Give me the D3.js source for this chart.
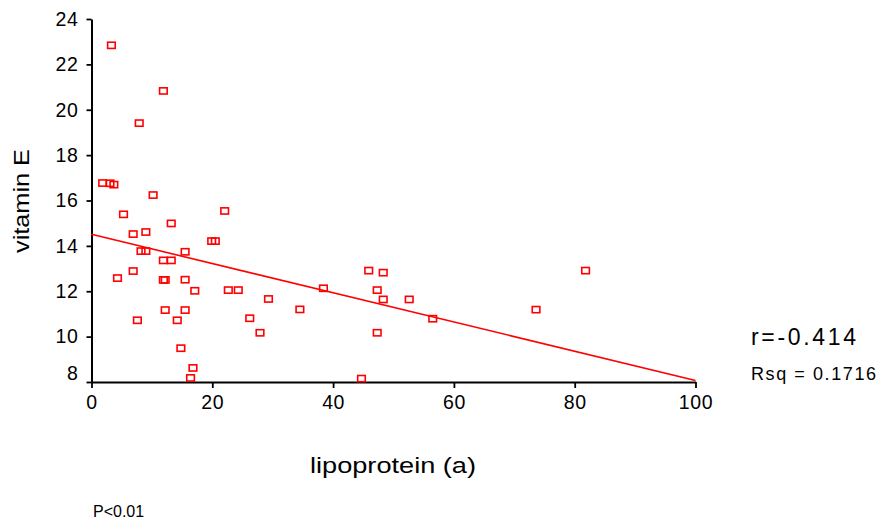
<!DOCTYPE html>
<html><head><meta charset="utf-8">
<script src="https://cdn.jsdelivr.net/npm/d3@7"></script>
<style>body{margin:0;background:#fff}svg{display:block}text{font-family:"Liberation Sans",Arial,sans-serif;fill:#000}</style>
</head><body><svg id="c" width="880" height="522"></svg>
<script>
const lpa = [3.3,11.9,7.9,1.85,3.06,3.7,10.2,5.3,13.2,6.9,9.0,8.2,9.0,15.5,11.9,13.2,4.3,6.9,11.9,12.2,15.5,17.1,12.2,15.5,7.6,14.2,14.8,16.8,16.4,22.05,19.9,20.5,22.65,24.3,29.3,26.2,27.9,38.4,34.5,45.9,48.3,47.3,48.3,47.3,44.7,73.6,81.8,52.6,56.5];
const vitE = [22.84,20.83,19.41,16.77,16.76,16.70,16.24,15.39,14.99,14.52,14.61,13.77,13.77,13.74,13.36,13.36,12.58,12.89,12.50,12.50,12.51,12.02,11.17,11.17,10.72,10.72,9.49,8.62,8.18,15.54,14.21,14.21,12.05,12.05,11.66,10.81,10.17,12.13,11.2,12.91,12.82,12.05,11.64,10.17,8.15,11.19,12.91,11.64,10.79];
const fitLine = [[0,14.51],[100,8.07]];
const xTicks = [0,20,40,60,80,100];
const yTicks = [8,10,12,14,16,18,20,22,24];
const labels = {x:"lipoprotein (a)", y:"vitamin E", r:"r=-0.414", rsq:"Rsq = 0.1716", p:"P<0.01"};

const svg = d3.select("#c");
const x = d3.scaleLinear().domain([0,100]).range([91.5,695.5]);
const y = d3.scaleLinear().domain([8,24]).range([382,19]);

// axes
const xAxis = svg.append("g").attr("transform","translate(0,382)")
  .call(d3.axisBottom(x).tickValues(xTicks).tickSize(6).tickSizeOuter(0).tickPadding(7));
const yAxis = svg.append("g").attr("transform","translate(91.5,0)")
  .call(d3.axisLeft(y).tickValues(yTicks).tickSize(5).tickSizeOuter(0).tickPadding(8));
[xAxis,yAxis].forEach(g=>{
  g.select(".domain").attr("stroke","#000").attr("stroke-width",2);
  g.selectAll(".tick line").attr("stroke","#000").attr("stroke-width",1.8);
  g.selectAll(".tick text").attr("font-size",19.5).attr("fill","#000")
    .attr("letter-spacing","0.6px");
});
yAxis.selectAll(".tick text").filter(d=>d===8).attr("dy","-0.15em");

// regression line
svg.append("path").datum(fitLine)
  .attr("d", d3.line().x(d=>x(d[0])).y(d=>y(d[1])))
  .attr("stroke","#f00").attr("stroke-width",1.6).attr("fill","none");

// points
svg.append("g").selectAll("rect").data(lpa.map((v,i)=>[v,vitE[i]])).join("rect")
  .attr("x",d=>x(d[0])-3.8).attr("y",d=>y(d[1])-3.1)
  .attr("width",7.6).attr("height",6.2)
  .attr("fill","none").attr("stroke","#f00").attr("stroke-width",1.6);

// labels
svg.append("text").attr("transform","translate(29,201) rotate(-90)")
  .attr("text-anchor","middle").attr("font-size",22)
  .attr("textLength",104).attr("lengthAdjust","spacingAndGlyphs").text(labels.y);
svg.append("text").attr("x",393).attr("y",473).attr("text-anchor","middle")
  .attr("font-size",22).attr("textLength",166).attr("lengthAdjust","spacingAndGlyphs").text(labels.x);
svg.append("text").attr("x",751).attr("y",345).attr("font-size",23)
  .attr("textLength",105).attr("lengthAdjust","spacing").text(labels.r);
svg.append("text").attr("x",751).attr("y",380).attr("font-size",18)
  .attr("textLength",125).attr("lengthAdjust","spacing").text(labels.rsq);
svg.append("text").attr("x",93).attr("y",517).attr("font-size",16).text(labels.p);
</script></body></html>
